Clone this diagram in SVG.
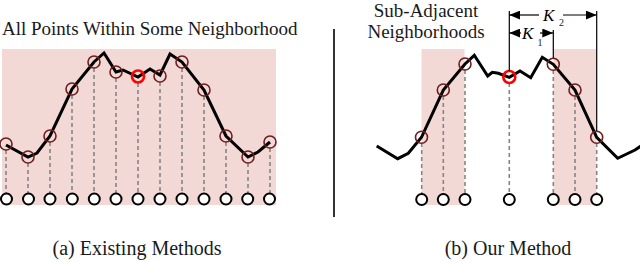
<svg xmlns="http://www.w3.org/2000/svg" width="640" height="262" viewBox="0 0 640 262">
<style>
  text { font-family: 'Liberation Serif', 'DejaVu Serif', serif; }
  .t { fill: #1a1a1a; }
  .k { font-style: italic; fill: #000; }
  .pink { fill: #f2d9d6; }
  .curve { fill: none; stroke: #000; stroke-width: 3; stroke-linejoin: miter; }
  .dash { stroke: #858585; stroke-width: 1.6; stroke-dasharray: 4 3; fill: none; }
  .pt { fill: none; stroke: #6e1e1e; stroke-width: 1.6; }
  .q { fill: none; stroke: #ff0000; stroke-width: 2.6; }
  .node { fill: #fff; stroke: #000; stroke-width: 2; }
  .solid { stroke: #000; stroke-width: 1.2; fill: none; }
  .arr { stroke: #000; stroke-width: 1.2; fill: none; marker-end: url(#ah); }
</style>
<defs>
  <marker id="ah" markerUnits="userSpaceOnUse" markerWidth="11" markerHeight="9" refX="11" refY="4.5" orient="auto-start-reverse">
    <path d="M0,0 L11,4.5 L0,9 z" fill="#000"/>
  </marker>
</defs>

<!-- Panel (a) -->
<g id="panel-a">
  <text class="t" x="2" y="34.5" font-size="19" font-family="Liberation Serif, serif">All Points Within Some Neighborhood</text>
  <rect class="pink" x="2" y="49" width="274" height="156"/>
  <g id="a-dashes">
    <line class="dash" x1="6" y1="150" x2="6" y2="193"/>
    <line class="dash" x1="28" y1="163" x2="28" y2="193"/>
    <line class="dash" x1="50" y1="142" x2="50" y2="193"/>
    <line class="dash" x1="72" y1="95" x2="72" y2="193"/>
    <line class="dash" x1="94" y1="68" x2="94" y2="193"/>
    <line class="dash" x1="116" y1="78" x2="116" y2="193"/>
    <line class="dash" x1="138" y1="83" x2="138" y2="193"/>
    <line class="dash" x1="160" y1="82" x2="160" y2="193"/>
    <line class="dash" x1="182" y1="68" x2="182" y2="193"/>
    <line class="dash" x1="204" y1="96" x2="204" y2="193"/>
    <line class="dash" x1="226" y1="142" x2="226" y2="193"/>
    <line class="dash" x1="248" y1="163" x2="248" y2="193"/>
    <line class="dash" x1="270" y1="148" x2="270" y2="193"/>
  </g>
  <polyline class="curve" points="6,145 28,157 37,153 50,136 72,89 94,62 104,53 116,72 123,70 138,77 150,69 160,75 170,54 182,62 204,90 226,136 248,157 258,152 270,142"/>
  <g id="a-points">
    <circle class="pt" cx="6" cy="144" r="6"/>
    <circle class="pt" cx="28" cy="157" r="6"/>
    <circle class="pt" cx="50" cy="136" r="6"/>
    <circle class="pt" cx="72" cy="89" r="6"/>
    <circle class="pt" cx="94" cy="62" r="6"/>
    <circle class="pt" cx="116" cy="72" r="6"/>
    <circle class="q" cx="138" cy="76.5" r="6"/>
    <circle class="pt" cx="160" cy="76" r="6"/>
    <circle class="pt" cx="182" cy="62" r="6"/>
    <circle class="pt" cx="204" cy="90" r="6"/>
    <circle class="pt" cx="226" cy="136" r="6"/>
    <circle class="pt" cx="248" cy="157" r="6"/>
    <circle class="pt" cx="270" cy="142" r="6"/>
  </g>
  <g id="a-nodes">
    <circle class="node" cx="6.5" cy="199" r="5.5"/>
    <circle class="node" cx="28.5" cy="199" r="5.5"/>
    <circle class="node" cx="50" cy="199" r="5.5"/>
    <circle class="node" cx="72.3" cy="199" r="5.5"/>
    <circle class="node" cx="94.3" cy="199" r="5.5"/>
    <circle class="node" cx="116" cy="199" r="5.5"/>
    <circle class="node" cx="138" cy="199" r="5.5"/>
    <circle class="node" cx="160" cy="199" r="5.5"/>
    <circle class="node" cx="182" cy="199" r="5.5"/>
    <circle class="node" cx="204" cy="199" r="5.5"/>
    <circle class="node" cx="226" cy="199" r="5.5"/>
    <circle class="node" cx="247.7" cy="199" r="5.5"/>
    <circle class="node" cx="269.5" cy="199" r="5.5"/>
  </g>
  <text class="t" x="137" y="255" font-size="20" text-anchor="middle">(a) Existing Methods</text>
</g>

<line id="separator" x1="334" y1="29" x2="334" y2="217" stroke="#333" stroke-width="2"/>

<!-- Panel (b) -->
<g id="panel-b">
  <text class="t" x="426" y="16.5" font-size="19" text-anchor="middle">Sub-Adjacent</text>
  <text class="t" x="426" y="38" font-size="19" text-anchor="middle">Neighborhoods</text>
  <rect class="pink" x="421.5" y="49" width="43" height="156"/>
  <rect class="pink" x="553.5" y="49" width="43" height="156"/>
  <g id="b-dashes">
    <line class="dash" x1="421.7" y1="143" x2="421.7" y2="194"/>
    <line class="dash" x1="443.3" y1="96" x2="443.3" y2="194"/>
    <line class="dash" x1="465" y1="70" x2="465" y2="194"/>
    <line class="dash" x1="509.3" y1="83" x2="509.3" y2="194"/>
    <line class="dash" x1="553.3" y1="70" x2="553.3" y2="194"/>
    <line class="dash" x1="575" y1="96" x2="575" y2="194"/>
    <line class="dash" x1="596.7" y1="143" x2="596.7" y2="194"/>
  </g>
  <polyline class="curve" points="376.7,146 397.7,158.7 408.3,153.3 421.5,137.3 443.3,90 465,64 474.3,55.3 487.7,76 492.3,72.3 498.3,73.3 509.3,77.3 520,71 530.7,77.7 542.3,57.3 553.3,64.3 575,90 596.7,137.3 617.7,158.3 635,150 641,146"/>
  <g id="b-points">
    <circle class="pt" cx="421.5" cy="137.3" r="6"/>
    <circle class="pt" cx="443.3" cy="90" r="6"/>
    <circle class="pt" cx="465" cy="64" r="6"/>
    <circle class="q" cx="509.3" cy="77" r="6"/>
    <circle class="pt" cx="553.3" cy="64.3" r="6"/>
    <circle class="pt" cx="575" cy="90" r="6"/>
    <circle class="pt" cx="596.7" cy="137.3" r="6"/>
  </g>
  <g id="b-nodes">
    <circle class="node" cx="421.7" cy="199.5" r="5.5"/>
    <circle class="node" cx="443.3" cy="199.5" r="5.5"/>
    <circle class="node" cx="465" cy="199.5" r="5.5"/>
    <circle class="node" cx="509.3" cy="199.5" r="5.5"/>
    <circle class="node" cx="553.3" cy="199.5" r="5.5"/>
    <circle class="node" cx="575" cy="199.5" r="5.5"/>
    <circle class="node" cx="596.7" cy="199.5" r="5.5"/>
  </g>
  <text class="t" x="508" y="255" font-size="20" text-anchor="middle">(b) Our Method</text>
</g>

<!-- K annotations -->
<g id="connectors">
  <line class="solid" x1="509.3" y1="11" x2="509.3" y2="71"/>
  <line class="solid" x1="553.3" y1="30" x2="553.3" y2="58"/>
  <line class="solid" x1="596.7" y1="11" x2="596.7" y2="131"/>
  <line class="arr" x1="539" y1="15" x2="509.3" y2="15"/>
  <line class="arr" x1="563" y1="15" x2="596.7" y2="15"/>
  <line class="arr" x1="521" y1="33" x2="509.3" y2="33"/>
  <line class="arr" x1="540" y1="33" x2="553.3" y2="33"/>
</g>
<g id="k-labels">
  <text class="k" x="543" y="20.5" font-size="17">K</text>
  <text class="t" x="559" y="26" font-size="10">2</text>
  <text class="k" x="522" y="39" font-size="17">K</text>
  <text class="t" x="537.5" y="46" font-size="10">1</text>
</g>
</svg>
